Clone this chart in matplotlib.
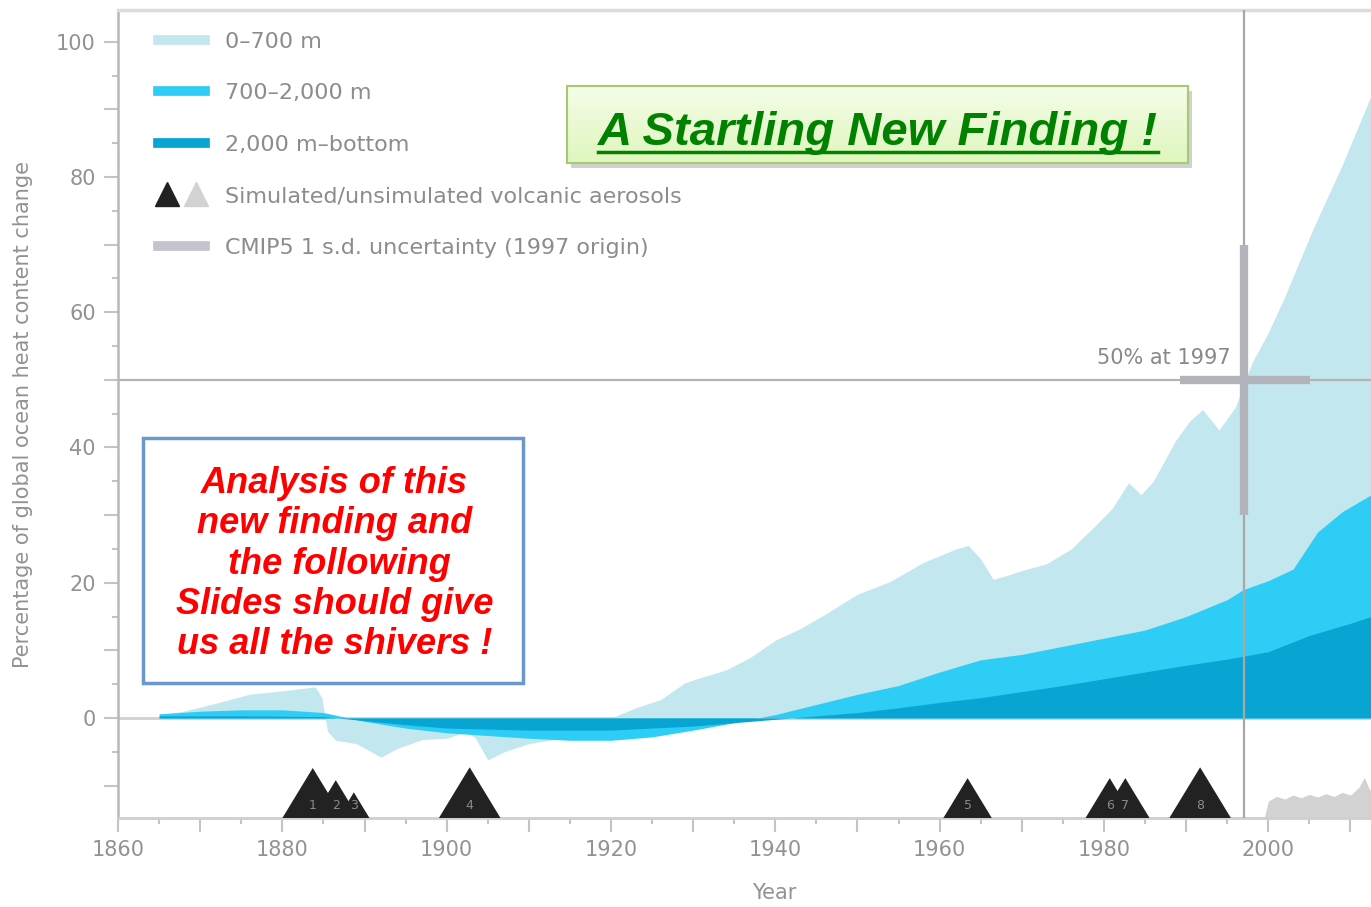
import matplotlib
matplotlib.use('Agg')
import matplotlib.pyplot as plt
import numpy as np
from matplotlib.lines import Line2D
from matplotlib.patches import Rectangle
from matplotlib.legend_handler import HandlerTuple
from matplotlib.colors import LinearSegmentedColormap

# cumulative top of the 0-700 m layer (total)
total_years = [1865, 1868, 1872, 1876, 1880, 1884, 1884.8, 1885.5, 1886.5, 1889, 1892, 1894,
               1897, 1900, 1902.5, 1903.5, 1905, 1907, 1910, 1913, 1916, 1920, 1923, 1926,
               1929, 1931, 1934, 1937, 1940, 1943, 1946, 1950, 1954, 1958, 1962, 1963.5,
               1965, 1966.5, 1968, 1970, 1973, 1976, 1979, 1981, 1983, 1984.5, 1986, 1988.7,
               1990.5, 1992, 1994, 1996, 1998, 2000, 2002, 2005.4, 2009, 2012.5]
total_vals = [0.5, 1.0, 2.2, 3.5, 4.0, 4.6, 3.0, -2.0, -3.3, -3.8, -5.8, -4.5,
              -3.2, -3.0, -2.0, -3.0, -6.2, -5.0, -3.8, -3.2, -2.0, 0.0, 1.5, 2.7,
              5.2, 6.0, 7.1, 9.0, 11.5, 13.2, 15.3, 18.3, 20.2, 23.0, 25.0, 25.5,
              23.5, 20.5, 21.0, 21.8, 22.8, 25.0, 28.5, 31.0, 34.8, 33.0, 35.0, 41.0,
              44.0, 45.6, 42.6, 46.0, 52.5, 57.0, 62.3, 72.2, 81.8, 92.0]

# cumulative top of the 700-2,000 m layer
mid_years = [1865, 1870, 1875, 1880, 1885, 1890, 1895, 1900, 1905, 1910, 1915, 1920, 1925,
             1930, 1935, 1940, 1945, 1950, 1955, 1960, 1965, 1970, 1975, 1980, 1985, 1990,
             1995, 1997, 2000, 2003, 2006, 2009, 2012.5]
mid_vals = [0.6, 1.0, 1.2, 1.2, 0.8, -0.5, -1.5, -2.2, -2.6, -3.0, -3.3, -3.3, -2.8,
            -1.8, -0.7, 0.5, 2.0, 3.5, 4.8, 6.8, 8.6, 9.4, 10.6, 11.8, 13.0, 15.0,
            17.5, 19.0, 20.3, 22.0, 27.5, 30.5, 33.0]

# 2,000 m-bottom layer
deep_years = [1865, 1875, 1885, 1890, 1895, 1900, 1910, 1920, 1930, 1940, 1945, 1950, 1955,
              1960, 1965, 1970, 1975, 1980, 1985, 1990, 1995, 2000, 2005, 2010, 2012.5]
deep_vals = [0.3, 0.3, 0.2, -0.4, -1.0, -1.5, -1.8, -1.8, -1.2, -0.2, 0.3, 0.8, 1.5,
             2.3, 3.0, 3.9, 4.8, 5.8, 6.8, 7.8, 8.7, 9.8, 12.2, 14.0, 15.0]

# simulated volcanic eruptions
volcano_years = [1883.7, 1886.5, 1888.7, 1902.8, 1963.4, 1980.7, 1982.6, 1991.7]
volcano_heights = [7.4, 5.6, 3.8, 7.5, 5.9, 5.9, 5.9, 7.5]
volcano_labels = ['1', '2', '3', '4', '5', '6', '7', '8']

# unsimulated volcanic aerosols (height above the axis floor)
unsim_years = [1999.5, 2000, 2001, 2002, 2003, 2004, 2005, 2006, 2007, 2008, 2009, 2010,
               2011, 2011.7, 2012.2, 2012.5]
unsim_heights = [0, 2.5, 3.2, 2.8, 3.4, 3.0, 3.5, 3.1, 3.6, 3.2, 3.8, 3.4, 4.5, 6.0, 4.5, 4.0]

legend_labels = ['0\u2013700 m', '700\u20132,000 m', '2,000 m\u2013bottom',
                 'Simulated/unsimulated volcanic aerosols', 'CMIP5 1 s.d. uncertainty (1997 origin)']

c_light = '#c3e7ee'
c_mid = '#2ecdf5'
c_dark = '#08a5d3'
c_text = '#929292'

fig = plt.figure(figsize=(13.71, 9.07), dpi=100)
ax = fig.add_axes([0.0861, 0.0981, 0.9139, 0.8909], zorder=0)
ymin, ymax = -14.8, 104.7
ax.set_xlim(1860, 2012.5)
ax.set_ylim(ymin, ymax)

ax.axhline(0, color='#d0d0d0', lw=2, zorder=0.5)
ax.fill_between(total_years, 0, total_vals, color=c_light, lw=0, zorder=1)
ax.fill_between(mid_years, 0, mid_vals, color=c_mid, lw=0, zorder=1.1)
ax.fill_between(deep_years, 0, deep_vals, color=c_dark, lw=0, zorder=1.2)

ax.axhline(50, color='#b4b4b4', lw=1.6, zorder=3)
ax.axvline(1997, color='#a8a8a8', lw=1.6, zorder=3)
ax.plot([1997, 1997], [30, 70], color='#b3b3bb', lw=6, solid_capstyle='butt', zorder=4)
ax.plot([1989.2, 2005.1], [50, 50], color='#b3b3bb', lw=6, solid_capstyle='butt', zorder=4)
ax.text(1995.4, 52.3, '50% at 1997', ha='right', va='baseline', fontsize=15, color='#888888')

# volcano triangles
for yr, h in zip(volcano_years, volcano_heights):
    ax.fill([yr - 0.5 * h, yr, yr + 0.5 * h], [ymin, ymin + h, ymin], color='#222222',
            lw=0, zorder=5)
for yr, lbl in zip(volcano_years, volcano_labels):
    ax.text(yr, ymin + 0.9, lbl, ha='center', va='bottom', fontsize=9, color='#8a8a8a', zorder=6)
ax.fill_between(unsim_years, ymin, np.array(unsim_heights) + ymin, color='#d2d2d2', lw=0, zorder=2)

# ticks
xmaj = np.arange(1860, 2011, 10)
ax.set_xticks(xmaj)
ax.set_xticklabels([str(y) if y % 20 == 0 else '' for y in xmaj])
ax.set_xticks(np.arange(1860, 2013, 5), minor=True)
ymaj = np.arange(-10, 101, 10)
ax.set_yticks(ymaj)
ax.set_yticklabels([str(v) if v % 20 == 0 and v >= 0 else '' for v in ymaj])
ax.set_yticks(np.arange(-10, 101, 5), minor=True)
ax.tick_params(which='major', length=10, width=1.5, color='#c4c4c4', labelsize=15,
               labelcolor=c_text, pad=6)
ax.tick_params(which='minor', length=4.5, width=1.5, color='#c4c4c4')

ax.spines['right'].set_visible(False)
ax.spines['top'].set_color('#dcdcdc')
ax.spines['top'].set_linewidth(2.5)
ax.spines['left'].set_color('#b8b8b8')
ax.spines['left'].set_linewidth(1.8)
ax.spines['bottom'].set_color('#cfcfcf')
ax.spines['bottom'].set_linewidth(2)

ax.set_ylabel('Percentage of global ocean heat content change', fontsize=15, color=c_text)
ax.yaxis.set_label_coords(-0.068, 0.5)
ax.set_xlabel('Year', fontsize=15, color=c_text)
ax.xaxis.set_label_coords(0.524, -0.08)

# legend
handles = [
    Line2D([], [], color=c_light, lw=7),
    Line2D([], [], color=c_mid, lw=7),
    Line2D([], [], color=c_dark, lw=7),
    (Line2D([], [], marker='^', ls='', color='#222222', ms=17),
     Line2D([], [], marker='^', ls='', color='#d2d2d2', ms=17)),
    Line2D([], [], color='#c4c4cc', lw=7),
]
leg = ax.legend(handles, legend_labels, handler_map={tuple: HandlerTuple(ndivide=None, pad=0.5)},
                loc='upper left', bbox_to_anchor=(0.016, 0.998), frameon=False, fontsize=16,
                labelcolor='#8c8c8c', handlelength=2.1, labelspacing=1.42, handletextpad=0.9)

# green title box
sh = Rectangle((0.4136 + 0.003, 0.8203 - 0.006), 0.4530, 0.0849, transform=fig.transFigure,
               facecolor='#999999', alpha=0.45, edgecolor='none', zorder=1)
fig.add_artist(sh)
gax = fig.add_axes([0.4136, 0.8203, 0.4530, 0.0849], zorder=2)
grad = np.linspace(0, 1, 100).reshape(-1, 1)
gax.imshow(grad, cmap=LinearSegmentedColormap.from_list('g', ['#f5fde9', '#dff6bd']),
           aspect='auto', extent=[0, 1, 0, 1])
gax.set_xticks([])
gax.set_yticks([])
for s in gax.spines.values():
    s.set_color('#a9c774')
    s.set_linewidth(1.5)
title = fig.text(0.6404, 0.840, 'A Startling New Finding !', fontsize=34, fontweight='bold',
                 fontstyle='italic', color='#008200', ha='center', va='baseline',
                 family='Liberation Sans', zorder=3)

# red comment box
fig.add_artist(Rectangle((0.1043, 0.2470), 0.2772, 0.2701, transform=fig.transFigure,
                         facecolor='white', edgecolor='#6b98cc', lw=2.5, zorder=3))
fig.text(0.244, 0.378, 'Analysis of this\nnew finding and\n the following\nSlides should give\nus all the shivers !',
         fontsize=26, fontweight='bold', fontstyle='italic', color='#ff0000', ha='center',
         va='center', family='Liberation Sans', linespacing=1.2, zorder=4)

# underline the title
fig.canvas.draw()
bb = title.get_window_extent()
W = fig.bbox.width
fig.add_artist(Line2D([bb.x0 / W, bb.x1 / W], [0.8324, 0.8324], transform=fig.transFigure,
                      color='#008200', lw=2.5, zorder=3))

fig.savefig('out.png', dpi=100)
